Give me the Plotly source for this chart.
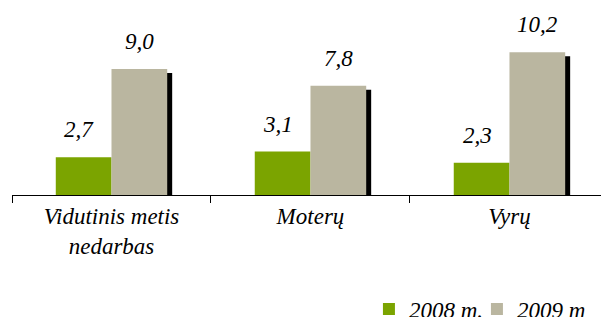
import plotly.graph_objects as go

categories = ["Vidutinis metis<br>nedarbas", "Moterų", "Vyrų"]
series_names = ["2008 m.", "2009 m."]
values_2008 = [2.7, 3.1, 2.3]
values_2009 = [9.0, 7.8, 10.2]
labels_2008 = ["2,7", "3,1", "2,3"]
labels_2009 = ["9,0", "7,8", "10,2"]

FONT = "Liberation Serif"
GREEN = "#7ba400"
BEIGE = "#bab6a0"
W = 0.28
shadow_dy = 0.29
shadow_dx = 0.025
FS = 23


def ital(s):
    return "<br>".join("<i>" + part + "</i>" for part in s.split("<br>"))


fig = go.Figure()
fig.add_trace(go.Bar(x=categories, y=values_2008, name=ital(series_names[0]),
                     marker=dict(color=GREEN, line=dict(width=0)),
                     offset=-W, width=W))
fig.add_trace(go.Bar(x=categories, y=[v - shadow_dy for v in values_2009],
                     showlegend=False, hoverinfo="skip",
                     marker=dict(color="#000000", line=dict(width=0)),
                     offset=shadow_dx, width=W))
fig.add_trace(go.Bar(x=categories, y=values_2009, name=ital(series_names[1]),
                     marker=dict(color=BEIGE, line=dict(width=0)),
                     offset=0, width=W))

for cat, v, t in zip(categories, values_2008, labels_2008):
    fig.add_annotation(x=cat, y=v, text=ital(t), showarrow=False, xshift=-28 - 4,
                       yanchor="bottom", yshift=13,
                       font=dict(family=FONT, size=FS, color="black"))
for cat, v, t in zip(categories, values_2009, labels_2009):
    fig.add_annotation(x=cat, y=v, text=ital(t), showarrow=False, xshift=28,
                       yanchor="bottom", yshift=13,
                       font=dict(family=FONT, size=FS, color="black"))

fig.update_layout(
    template="none",
    width=601, height=317,
    margin=dict(l=12, r=0, t=0, b=122, autoexpand=False),
    paper_bgcolor="white", plot_bgcolor="white",
    barmode="overlay",
    showlegend=True,
    font=dict(family=FONT, size=FS, color="black"),
    legend=dict(orientation="h", x=0.606, xanchor="left", y=-0.474, yanchor="top",
                font=dict(family=FONT, size=FS, color="black"),
                traceorder="normal", itemwidth=30, entrywidth=63,
                bgcolor="rgba(0,0,0,0)"),
    xaxis=dict(type="category", range=[-0.5, 2.46], showline=True,
               linecolor="black", linewidth=1, ticks="outside", ticklen=7,
               tickcolor="black", tickson="boundaries", showgrid=False,
               tickmode="array", tickvals=categories,
               ticktext=[ital(c) for c in categories],
               tickfont=dict(family=FONT, size=FS, color="black"),
               automargin=False, fixedrange=True),
    yaxis=dict(range=[0, 195 / 14], visible=False, showgrid=False,
               zeroline=False, fixedrange=True),
)

fig.write_html("out.html", config={"displayModeBar": False},
               post_script="document.body.style.margin='0';document.body.style.overflow='hidden';")
